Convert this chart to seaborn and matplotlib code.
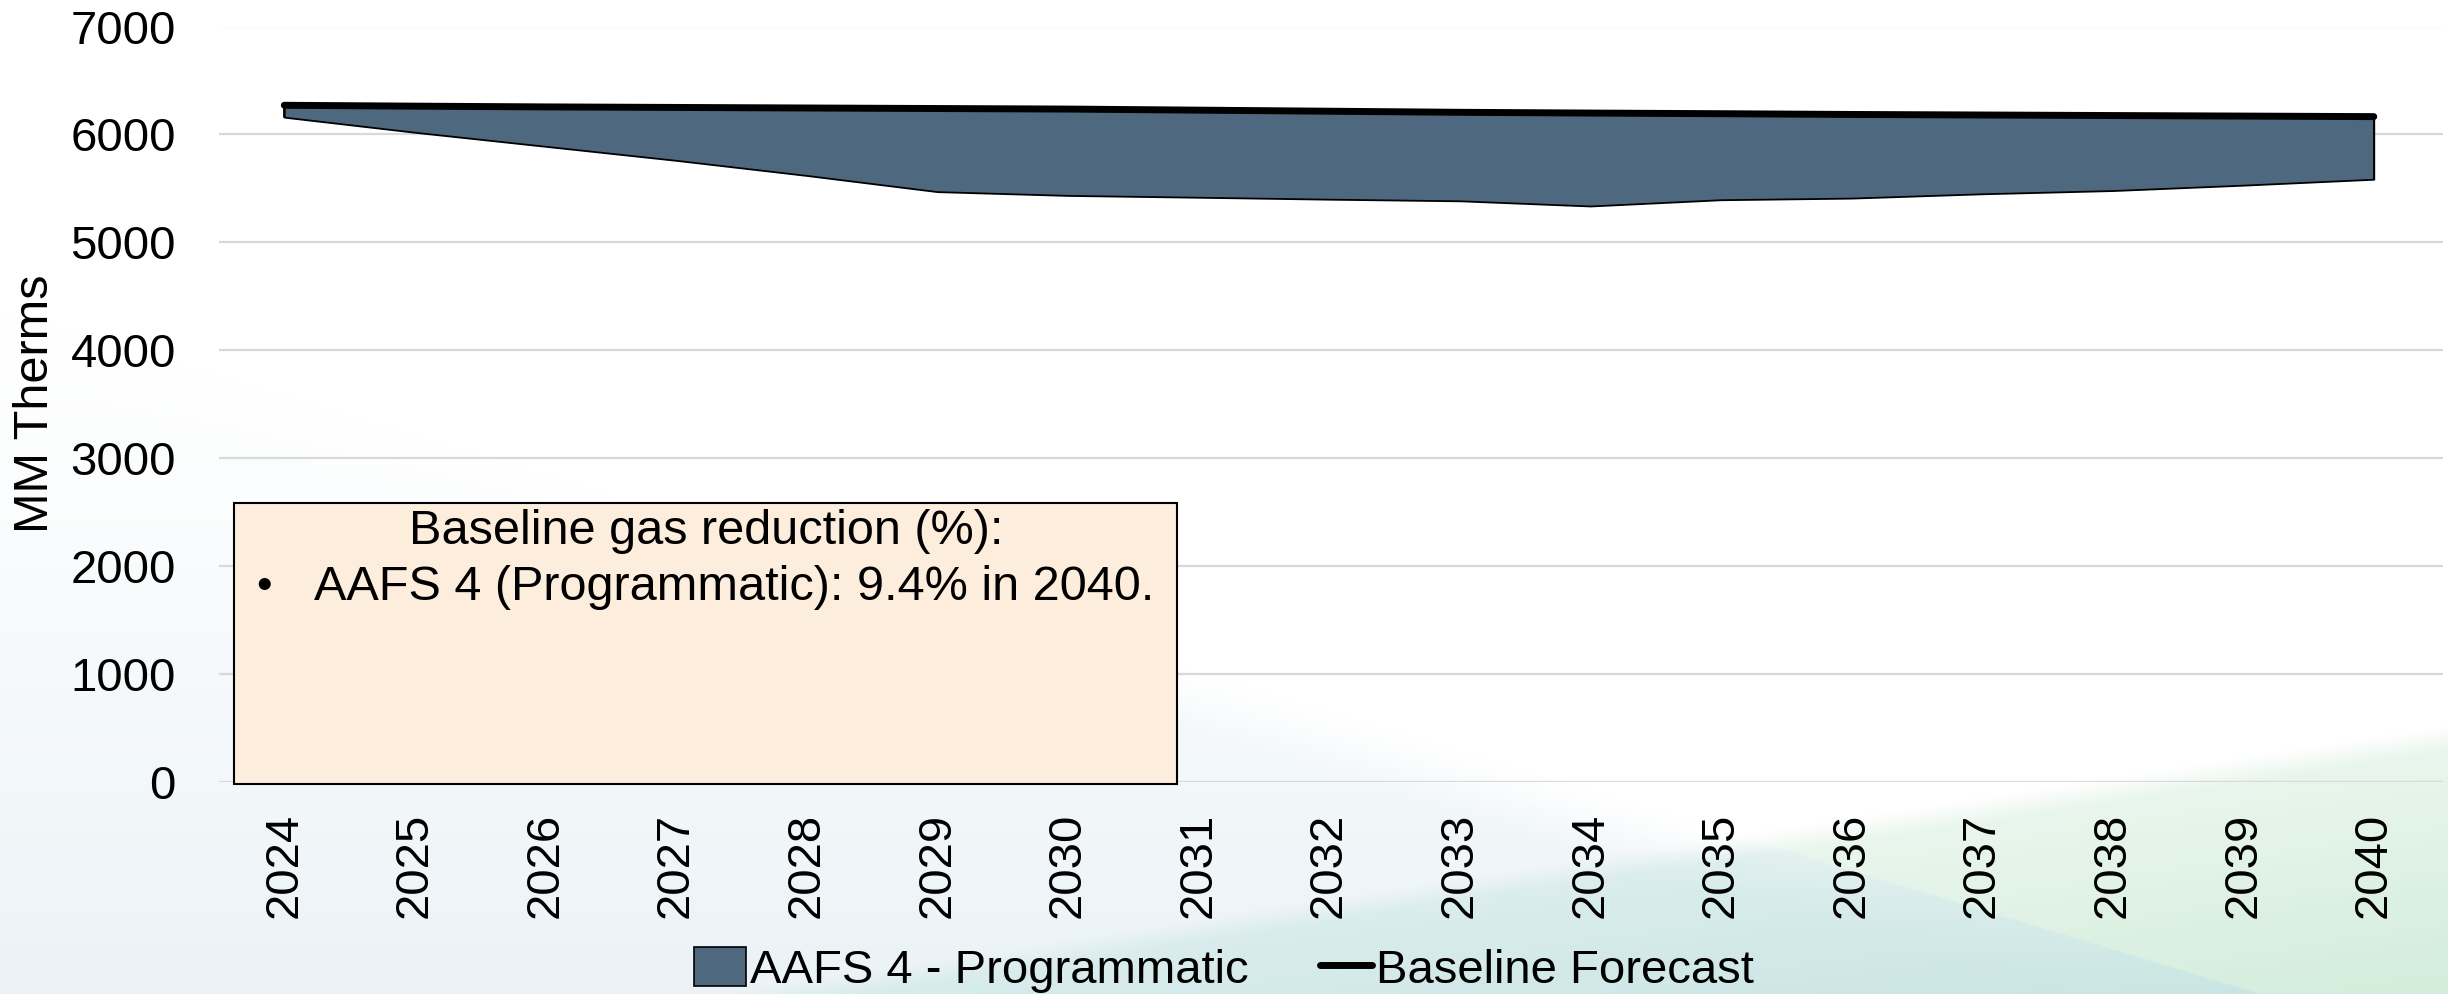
import numpy as np
import pandas as pd
import matplotlib
matplotlib.use("Agg")
import matplotlib.pyplot as plt
import seaborn as sns
from matplotlib.patches import Rectangle, Patch
from matplotlib.lines import Line2D

# data (MM Therms)
years = [2024, 2025, 2026, 2027, 2028, 2029, 2030, 2031, 2032,
         2033, 2034, 2035, 2036, 2037, 2038, 2039, 2040]
baseline = [6270, 6262, 6255, 6250, 6245, 6240, 6235, 6225, 6215,
            6205, 6198, 6192, 6185, 6180, 6175, 6170, 6165]
programmatic = [6160, 6020, 5890, 5760, 5620, 5470, 5435, 5418, 5400,
                5385, 5337, 5395, 5410, 5450, 5480, 5530, 5585]
y_ticks = [0, 1000, 2000, 3000, 4000, 5000, 6000, 7000]

box_title = "Baseline gas reduction (%):"
box_item = "AAFS 4 (Programmatic): 9.4% in 2040."

area_color = "#4E6880"
box_color = "#FDEDDC"

df = pd.DataFrame({"year": years, "baseline": baseline, "programmatic": programmatic})

sns.set_style("white")
plt.rcParams["font.family"] = ["Liberation Sans", "DejaVu Sans"]
plt.rcParams["text.color"] = "black"
plt.rcParams["xtick.color"] = "black"
plt.rcParams["ytick.color"] = "black"

fig = plt.figure(figsize=(24.48, 9.94), dpi=100)

# soft decorative background (white with teal/green wash at the bottom)
H, W = 637, 1568
yy, xx = np.mgrid[0:H, 0:W].astype(float)
img = np.ones((H, W, 3))
d1 = yy - (290 + 0.302 * (xx - 300))          # >0 : left/below first diagonal
d2 = yy - (637 - 0.154 * (xx - 450))          # >0 : below second diagonal
fade = np.clip((yy - 200) / 437, 0, 1) ** 1.2
t1 = np.clip(d1 / 40, 0, 1) * fade * 0.6
c1 = np.array([0.87, 0.92, 0.945])
img = img * (1 - t1[..., None]) + c1 * t1[..., None]
t2 = np.clip(d2 / 15, 0, 1) * np.clip(0.45 + d2 / 300, 0, 1)
c2 = np.where((d1 > 0)[..., None], np.array([0.78, 0.895, 0.885]),
              np.array([0.83, 0.93, 0.86]))
img = img * (1 - t2[..., None]) + c2 * t2[..., None]
bg = fig.add_axes([0, 0, 1, 1], zorder=-10)
bg.imshow(img, aspect="auto", extent=[0, 1, 0, 1], interpolation="bilinear")
bg.axis("off")

ax = fig.add_axes([219 / 2448, 1 - 782 / 994, 2224 / 2448, 755.5 / 994])
ax.patch.set_alpha(0)

ax.fill_between(df["year"], df["programmatic"], df["baseline"], color=area_color,
                edgecolor="black", linewidth=1.3, zorder=2)
ax.plot([years[0], years[0]], [programmatic[0], baseline[0]], color="black", lw=1.3, zorder=2)
ax.plot([years[-1], years[-1]], [programmatic[-1], baseline[-1]], color="black", lw=1.3, zorder=2)
sns.lineplot(data=df, x="year", y="baseline", color="black", linewidth=5,
             ax=ax, zorder=3, legend=False)
ax.lines[-1].set_solid_capstyle("round")

ax.set_xlim(years[0] - 0.5, years[-1] + 0.53)
ax.set_ylim(0, 7000)
ax.set_yticks(y_ticks)
ax.set_yticklabels([str(v) for v in y_ticks], fontsize=34)
ax.set_xticks(years)
ax.set_xticklabels([str(y) for y in years], rotation=90, fontsize=34)
ax.tick_params(axis="y", length=0, pad=31)
ax.tick_params(axis="x", length=0, pad=22)
ax.grid(axis="y", color="#D9D9D9", linewidth=1.6, zorder=0)
ax.set_axisbelow(True)
for s in ax.spines.values():
    s.set_visible(False)
ax.set_xlabel("")
ax.set_ylabel("")

fig.text(36 / 2448, 1 - 404 / 994, "MM Therms", rotation=90, ha="center",
         va="center", fontsize=35)

# annotation box
fig.patches.append(Rectangle((234 / 2448, 1 - 784 / 994), 943 / 2448, 281 / 994,
                             transform=fig.transFigure, facecolor=box_color,
                             edgecolor="black", linewidth=1.5, zorder=5))
fig.text(706 / 2448, 1 - 531 / 994, box_title, ha="center", va="center",
         fontsize=35, zorder=6)
fig.text(264 / 2448, 1 - 587 / 994, "\u2022", ha="center", va="center",
         fontsize=32, zorder=6)
fig.text(314 / 2448, 1 - 587 / 994, box_item, ha="left", va="center",
         fontsize=35, zorder=6)

handles = [Patch(facecolor=area_color, edgecolor="black", linewidth=1.2),
           Line2D([0], [0], color="black", linewidth=5)]
fig.legend(handles, ["AAFS 4 - Programmatic", "Baseline Forecast"],
           loc="center", bbox_to_anchor=(0.5, 1 - 970 / 994), ncol=2,
           frameon=False, fontsize=34, handlelength=1.1, handleheight=0.9,
           handletextpad=0.1, columnspacing=1.5)

fig.savefig("out.png", dpi=100)
